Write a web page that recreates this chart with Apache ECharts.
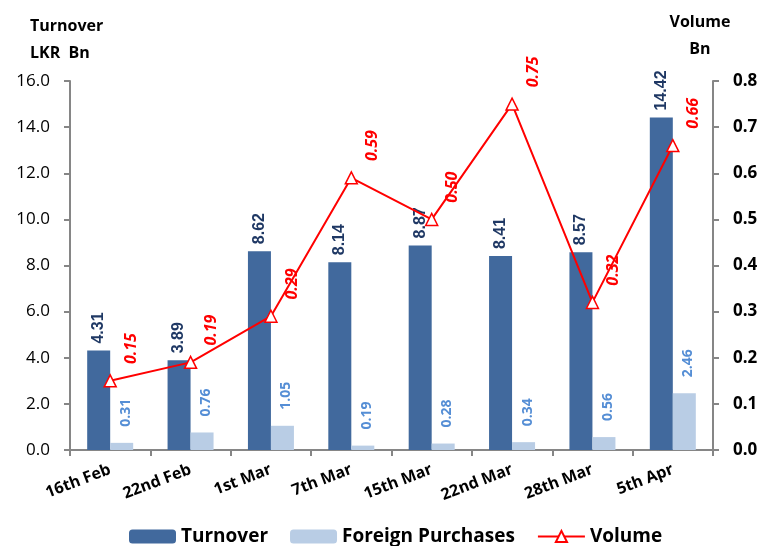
<!DOCTYPE html>
<html><head><meta charset="utf-8">
<script src="https://cdn.jsdelivr.net/npm/echarts@6/dist/echarts.min.js"></script>
<style>html,body{margin:0;padding:0;background:#fff}#c{width:766px;height:546px}</style>
</head><body><div id="c"></div>
<script>
var categories = ['16th Feb','22nd Feb','1st Mar','7th Mar','15th Mar','22nd Mar','28th Mar','5th Apr'];
var turnover = [4.31, 3.89, 8.62, 8.14, 8.87, 8.41, 8.57, 14.42];
var foreignPurchases = [0.31, 0.76, 1.05, 0.19, 0.28, 0.34, 0.56, 2.46];
var volume = [0.15, 0.19, 0.29, 0.59, 0.50, 0.75, 0.32, 0.66];

var chart = echarts.init(document.getElementById('c'));
var font = '"Open Sans", "Noto Sans", sans-serif';
chart.setOption({
  animation: false,
  textStyle: {fontFamily: font},
  grid: {left: 70, right: 53, top: 81, bottom: 96, containLabel: false},
  legend: {
    top: 522, left: 124, itemWidth: 47, itemHeight: 14, itemGap: 22,
    textStyle: {fontSize: 19, fontWeight: 'bold', color: '#000', fontFamily: font},
    data: ['Turnover', 'Foreign Purchases', 'Volume']
  },
  xAxis: {
    type: 'category', data: categories,
    axisLine: {lineStyle: {color: '#868686', width: 2}},
    axisTick: {show: true, length: 6, lineStyle: {color: '#868686', width: 2}},
    axisLabel: {rotate: 21, fontSize: 16, fontWeight: 'bold', color: '#000', margin: 19, interval: 0, fontFamily: font}
  },
  yAxis: [{
    type: 'value', min: 0, max: 16, interval: 2,
    name: 'Turnover\nLKR  Bn', nameLocation: 'end', nameGap: 14,
    nameTextStyle: {fontSize: 16, fontWeight: 'bold', color: '#000', align: 'left', padding: [0, 0, 0, -40], lineHeight: 27},
    axisLine: {show: true, lineStyle: {color: '#868686', width: 2}},
    axisTick: {show: true, length: 6, lineStyle: {color: '#868686', width: 2}},
    splitLine: {show: false},
    axisLabel: {fontSize: 17, color: '#000', margin: 20, formatter: function (v) { return v.toFixed(1); }}
  }, {
    type: 'value', min: 0, max: 0.8, interval: 0.1,
    name: 'Volume\nBn', nameLocation: 'end', nameGap: 18,
    nameTextStyle: {fontSize: 16, fontWeight: 'bold', color: '#000', align: 'center', padding: [0, 26, 0, 0], lineHeight: 27},
    axisLine: {show: true, lineStyle: {color: '#868686', width: 2}},
    axisTick: {show: true, length: 6, lineStyle: {color: '#868686', width: 2}},
    splitLine: {show: false},
    axisLabel: {fontSize: 17, fontWeight: 'bold', color: '#000', margin: 20, formatter: function (v) { return v.toFixed(1); }}
  }],
  series: [{
    name: 'Turnover', type: 'bar', data: turnover, barWidth: 23, barGap: '0%',
    itemStyle: {color: '#41699D'},
    label: {show: true, position: 'top', rotate: 90, align: 'left', verticalAlign: 'middle', distance: 7,
      fontSize: 16, fontWeight: 'bold', color: '#1F3864', fontFamily: '"Liberation Sans", Arial, sans-serif',
      formatter: function (p) { return p.value.toFixed(2); }}
  }, {
    name: 'Foreign Purchases', type: 'bar', data: foreignPurchases, barWidth: 23,
    itemStyle: {color: '#B9CDE5'},
    label: {show: true, position: 'top', rotate: 90, align: 'left', verticalAlign: 'middle', distance: 16, offset: [0, 4],
      fontSize: 14, fontWeight: 'bold', color: '#558ED5',
      formatter: function (p) { return p.value.toFixed(2); }}
  }, {
    name: 'Volume', type: 'line', yAxisIndex: 1, data: volume,
    symbol: 'triangle', symbolSize: 12,
    lineStyle: {color: '#FF0000', width: 2},
    itemStyle: {color: '#fff', borderColor: '#FF0000', borderWidth: 1.5},
    label: {show: true, position: 'top', rotate: 90, align: 'left', verticalAlign: 'middle', distance: 10, offset: [0, 21],
      fontSize: 16, fontWeight: 'bold', fontStyle: 'italic', color: '#FF0000',
      formatter: function (p) { return p.value.toFixed(2); }}
  }]
});
</script>
</body></html>
